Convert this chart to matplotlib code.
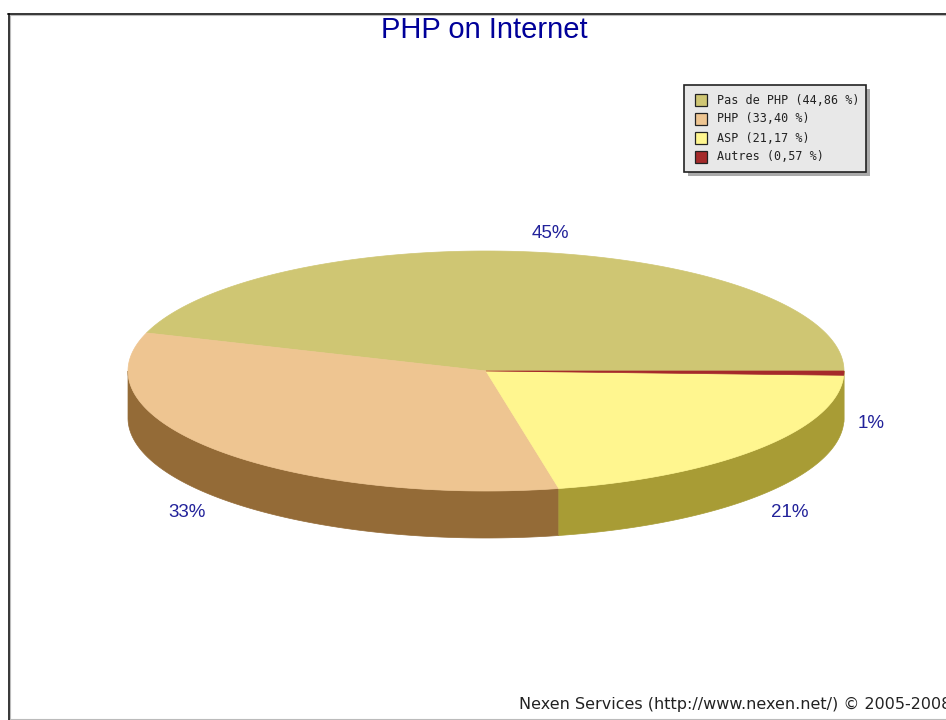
import numpy as np
import matplotlib
matplotlib.use("Agg")
import matplotlib.pyplot as plt
from matplotlib.patches import Polygon, Rectangle

categories = ["Pas de PHP", "PHP", "ASP", "Autres"]
shares = [44.86, 33.40, 21.17, 0.57]
pie_labels = ["45%", "33%", "21%", "1%"]

top_colors = ["#CFC673", "#EEC591", "#FFF68F", "#A52A2A"]
side_colors = ["#A89C35", "#946B37", "#A89C35", "#A89C35"]
label_offsets = [(7, -19), (-31, 15), (30, 17), (27, 3)]

# pie geometry in pixels
CX, CY = 486, 371
RX, RY = 358, 120
DEPTH = 47

fig = plt.figure(figsize=(9.46, 7.2), dpi=100)
ax = fig.add_axes([0, 0, 1, 1])
ax.set_xlim(0, 946)
ax.set_ylim(720, 0)
ax.axis("off")


def ellipse_pts(a0, a1, dy=0):
    t = np.deg2rad(np.linspace(a0, a1, 200))
    return np.column_stack([CX + RX * np.cos(t), CY - RY * np.sin(t) + dy])


# slice angles, counter clockwise from the right side
sizes = np.array(shares) / sum(shares) * 360
starts = np.concatenate([[0], np.cumsum(sizes)[:-1]])
ends = np.cumsum(sizes)

# frame
ax.plot([10.4, 10.4], [15, 720], color="#BBBBBB", lw=0.8)
ax.plot([10, 946], [15.4, 15.4], color="#BBBBBB", lw=0.8)
ax.plot([10, 946], [718.5, 718.5], color="#BBBBBB", lw=0.8)
ax.plot([9, 9], [14, 720], color="black", lw=1.1)
ax.plot([8.3, 946], [14, 14], color="black", lw=1.1)

# side walls, only the front half shows
for a0, a1, c in zip(starts, ends, side_colors):
    lo, hi = max(a0, 180), min(a1, 360)
    if hi <= lo:
        continue
    front = ellipse_pts(lo, hi)
    back = ellipse_pts(lo, hi, DEPTH)[::-1]
    ax.add_patch(Polygon(np.vstack([front, back]), closed=True, fc=c, ec=c, lw=0.5))

# top of the pie
for a0, a1, c in zip(starts, ends, top_colors):
    pts = np.vstack([[CX, CY], ellipse_pts(a0, a1)])
    ax.add_patch(Polygon(pts, closed=True, fc=c, ec=c, lw=0.5))

# percent labels
mids = (starts + ends) / 2
for m, lab, (ox, oy) in zip(mids, pie_labels, label_offsets):
    t = np.deg2rad(m)
    x = CX + RX * np.cos(t) + ox
    y = CY - RY * np.sin(t) + oy
    if np.sin(t) < 0:
        y += DEPTH
    ax.text(x, y, lab, color="#22229A", fontsize=13.5, family="Liberation Sans",
            ha="center", va="center")

# title and footer
ax.text(484.5, 30, "PHP on Internet", color="#000099", fontsize=21,
        family="Liberation Sans", ha="center", va="center")
ax.text(519, 704, "Nexen Services (http://www.nexen.net/) © 2005-2008", color="#222222",
        fontsize=11.5, family="DejaVu Sans", ha="left", va="center", clip_on=True)

# legend box
ax.add_patch(Rectangle((688, 89), 182, 87, fc="#AAAAAA", ec="none"))
ax.add_patch(Rectangle((684, 85), 182, 87, fc="#E8E8E8", ec="#222222", lw=1.2))
for i, (name, val, c) in enumerate(zip(categories, shares, top_colors)):
    y = 99.5 + i * 19
    ax.add_patch(Rectangle((695, y - 6), 12, 12, fc=c, ec="#222222", lw=0.9))
    txt = f"{name} ({val:.2f} %)".replace(".", ",")
    ax.text(717, y + 0.5, txt, color="#222222", fontsize=8.5, family="DejaVu Sans Mono",
            ha="left", va="center")

fig.savefig("out.png", dpi=100)
